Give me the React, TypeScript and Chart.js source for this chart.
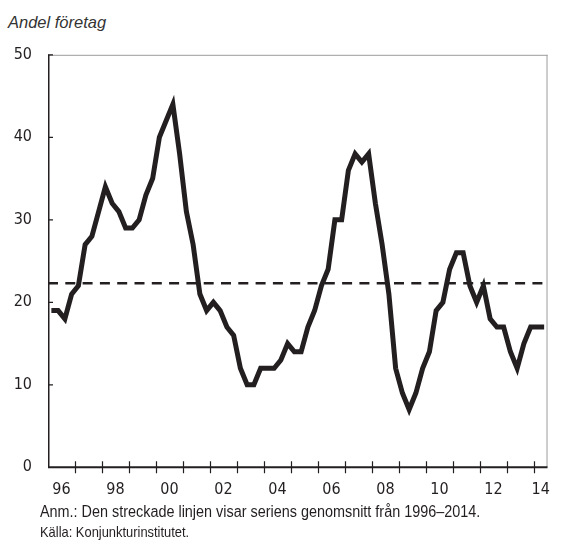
import React, { useEffect, useRef } from "react";
import { Chart, registerables } from "chart.js";

Chart.register(...registerables);

// Quarterly share of firms, 1996Q1 – 2014Q2
const startYear = 1996;
const shareValues = [
  19, 19, 18, 21, 22, 27, 28, 31, 34, 32,
  31, 29, 29, 30, 33, 35, 40, 42, 44, 38,
  31, 27, 21, 19, 20, 19, 17, 16, 12, 10,
  10, 12, 12, 12, 13, 15, 14, 14, 17, 19,
  22, 24, 30, 30, 36, 38, 37, 38, 32, 27,
  21, 12, 9, 7, 9, 12, 14, 19, 20, 24,
  26, 26, 22, 20, 22, 18, 17, 17, 14, 12,
  15, 17, 17, 17,
];
const meanValue = 22.3;

const xMin = 1996;
const xMax = 2014.5;
const xLabelPositions = [1996.5, 1998.5, 2000.5, 2002.5, 2004.5, 2006.5, 2008.5, 2010.5, 2012.5, 2014.25];
const xTickLabels = ["96", "98", "00", "02", "04", "06", "08", "10", "12", "14"];
const yearBoundaries = [1997, 1998, 1999, 2000, 2001, 2002, 2003, 2004, 2005, 2006, 2007, 2008, 2009, 2010, 2011, 2012, 2013, 2014];
const yTickValues = [10, 20, 30, 40, 50];

const titleText = "Andel företag";
const noteText = "Anm.: Den streckade linjen visar seriens genomsnitt från 1996–2014.";
const sourceText = "Källa: Konjunkturinstitutet.";

const INK = "#231f20";
const TICK_FONT = '"DejaVu Sans Condensed", serif';
const SANS = '"Liberation Sans", Arial, sans-serif';

const CANVAS_W = 563;
const CANVAS_H = 505;
const AREA_TOP = 54.8;
const AREA_BOTTOM = 467.3;
const AREA_LEFT = 48;
const AREA_RIGHT = 557.7;

const framePlugin = {
  id: "frame",
  beforeDatasetsDraw(chart: any) {
    const { ctx, chartArea, scales } = chart;
    const { left, right, top, bottom } = chartArea;
    const x = scales.x;
    const y = scales.y;
    ctx.save();
    ctx.strokeStyle = "#9b9b9b";
    ctx.lineWidth = 1;
    ctx.beginPath();
    ctx.moveTo(left, top + 0.5);
    ctx.lineTo(right, top + 0.5);
    ctx.moveTo(right - 0.5, top);
    ctx.lineTo(right - 0.5, bottom);
    ctx.stroke();

    ctx.strokeStyle = INK;
    ctx.lineWidth = 1.5;
    ctx.beginPath();
    ctx.moveTo(left + 0.75, top);
    ctx.lineTo(left + 0.75, bottom);
    ctx.stroke();

    ctx.lineWidth = 1.2;
    ctx.beginPath();
    for (const v of yTickValues) {
      const py = y.getPixelForValue(v);
      ctx.moveTo(left, py);
      ctx.lineTo(left + 5, py);
    }
    for (const yr of yearBoundaries) {
      const px = Math.round(x.getPixelForValue(yr)) + 0.5;
      ctx.moveTo(px, bottom - 6);
      ctx.lineTo(px, bottom + 6);
    }
    ctx.stroke();

    ctx.lineWidth = 2;
    ctx.beginPath();
    ctx.moveTo(left, bottom);
    ctx.lineTo(right, bottom);
    ctx.stroke();
    ctx.restore();
  },
};

export default function App() {
  const canvasRef = useRef<HTMLCanvasElement | null>(null);

  useEffect(() => {
    if (!canvasRef.current) return;
    const lineData = shareValues.map((v, i) => ({ x: startYear + (i + 0.5) / 4, y: v }));
    const meanData = [
      { x: xMin, y: meanValue },
      { x: xMax, y: meanValue },
    ];
    const chart = new Chart(canvasRef.current, {
      type: "line",
      data: {
        datasets: [
          {
            label: "Genomsnitt",
            data: meanData,
            borderColor: INK,
            borderWidth: 2.5,
            borderDash: [10, 7.3],
            pointRadius: 0,
            fill: false,
          },
          {
            label: "Andel företag",
            data: lineData,
            borderColor: INK,
            borderWidth: 5,
            borderJoinStyle: "miter",
            pointRadius: 0,
            tension: 0,
            fill: false,
          },
        ],
      },
      options: {
        responsive: false,
        animation: false,
        devicePixelRatio: 1,
        layout: {
          padding: { top: AREA_TOP, right: CANVAS_W - AREA_RIGHT, bottom: 0, left: 0 },
        },
        plugins: {
          legend: { display: false },
          tooltip: { enabled: false },
          title: { display: false },
        },
        scales: {
          x: {
            type: "linear",
            min: xMin,
            max: xMax,
            grid: { display: false, drawTicks: false },
            border: { display: false },
            afterBuildTicks: (scale: any) => {
              scale.ticks = xLabelPositions.map((v) => ({ value: v }));
            },
            afterFit: (scale: any) => {
              scale.height = CANVAS_H - AREA_BOTTOM;
            },
            ticks: {
              autoSkip: false,
              maxRotation: 0,
              minRotation: 0,
              padding: 13,
              color: INK,
              font: { family: TICK_FONT, size: 16 },
              callback: (_v: any, index: number) => xTickLabels[index],
            },
          },
          y: {
            min: 0,
            max: 50,
            grid: { display: false, drawTicks: false },
            border: { display: false },
            afterFit: (scale: any) => {
              scale.width = AREA_LEFT;
            },
            ticks: {
              stepSize: 10,
              padding: 16,
              color: INK,
              font: { family: TICK_FONT, size: 16 },
            },
          },
        },
      },
      plugins: [framePlugin],
    });
    return () => chart.destroy();
  }, []);

  return (
    <div style={{ position: "absolute", left: 0, top: 0, width: CANVAS_W, height: 547, background: "#fff" }}>
      <div
        style={{
          position: "absolute",
          left: 8,
          top: 12,
          lineHeight: "20px",
          fontFamily: SANS,
          fontStyle: "italic",
          fontSize: 16.5,
          color: "#333",
          whiteSpace: "nowrap",
        }}
      >
        {titleText}
      </div>
      <canvas
        ref={canvasRef}
        width={CANVAS_W}
        height={CANVAS_H}
        style={{ position: "absolute", left: 0, top: 0, width: CANVAS_W, height: CANVAS_H }}
      />
      <div
        style={{
          position: "absolute",
          left: 40,
          top: 502,
          lineHeight: "20px",
          fontFamily: SANS,
          fontSize: 16,
          transform: "scaleX(0.9)",
          transformOrigin: "left center",
          color: INK,
          whiteSpace: "nowrap",
        }}
      >
        {noteText}
      </div>
      <div
        style={{
          position: "absolute",
          left: 40,
          top: 522,
          lineHeight: "20px",
          fontFamily: SANS,
          fontSize: 15,
          transform: "scaleX(0.86)",
          transformOrigin: "left center",
          color: INK,
          whiteSpace: "nowrap",
        }}
      >
        {sourceText}
      </div>
    </div>
  );
}
